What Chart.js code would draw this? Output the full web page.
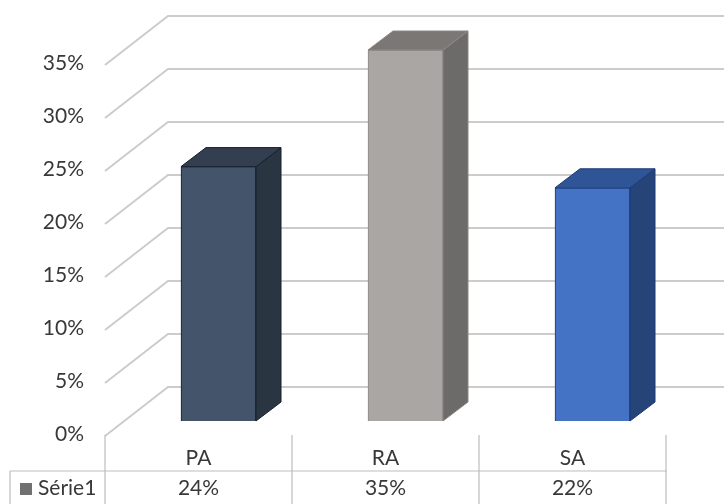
<!DOCTYPE html>
<html>
<head>
<meta charset="utf-8">
<style>
  html, body { margin: 0; padding: 0; background: #fff; }
  canvas { display: block; }
</style>
<script src="https://cdn.jsdelivr.net/npm/chart.js@4"></script>
</head>
<body>
<canvas id="grafico" width="724" height="504"></canvas>
<script>
const categories = ['PA', 'RA', 'SA'];
const serie1 = [24, 35, 22];
const serieName = 'Série1';
const yTicks = [0, 5, 10, 15, 20, 25, 30, 35];

// colores de cada barra: frente, lado, tapa, borde
const front = ['#44546a', '#aaa6a3', '#4472c4'];
const side = ['#2a3542', '#6c6b6a', '#264478'];
const top3d = ['#333f50', '#7b7774', '#2f5597'];
const edge = ['#161f2c', '#8a8886', '#1b3a78'];

const FONT = '"Lato", sans-serif';
const TEXT = '#383838';
const GRID = '#cccccc';
const DX = 25, DY = 19;          // profundidad de la barra
const WALL_X = 168, WALL_DY = 34, FLOOR_DY = 15, FLOOR_X = 105;

// Pared de fondo y lineas diagonales de la izquierda
const wallPlugin = {
  id: 'wall',
  beforeDatasetsDraw(chart) {
    const { ctx, scales: { y } } = chart;
    ctx.save();
    ctx.strokeStyle = GRID;
    ctx.lineWidth = 2;
    yTicks.forEach(v => {
      const py = y.getPixelForValue(v);
      ctx.beginPath();
      ctx.moveTo(FLOOR_X, py + FLOOR_DY);
      ctx.lineTo(WALL_X, py - WALL_DY);
      ctx.lineTo(724, py - WALL_DY);
      ctx.stroke();
    });
    ctx.restore();
  }
};

// Caras laterales y superior de las barras
const cubePlugin = {
  id: 'cube',
  afterDatasetsDraw(chart) {
    const { ctx } = chart;
    chart.getDatasetMeta(0).data.forEach((bar, i) => {
      const r = bar.x + bar.width / 2, l = bar.x - bar.width / 2;
      const t = bar.y, b = bar.base;
      ctx.save();
      ctx.lineWidth = 1;
      ctx.strokeStyle = edge[i];
      ctx.fillStyle = side[i];
      ctx.beginPath();
      ctx.moveTo(r, t);
      ctx.lineTo(r + DX, t - DY);
      ctx.lineTo(r + DX, b - DY);
      ctx.lineTo(r, b);
      ctx.closePath();
      ctx.fill();
      ctx.stroke();
      ctx.fillStyle = top3d[i];
      ctx.beginPath();
      ctx.moveTo(l, t);
      ctx.lineTo(l + DX, t - DY);
      ctx.lineTo(r + DX, t - DY);
      ctx.lineTo(r, t);
      ctx.closePath();
      ctx.fill();
      ctx.stroke();
      ctx.restore();
    });
  }
};

// Tabla de datos debajo del grafico
const tablePlugin = {
  id: 'dataTable',
  afterDraw(chart) {
    const { ctx } = chart;
    const cols = [105, 292, 479, 666];
    ctx.save();
    ctx.strokeStyle = '#bdbdbd';
    ctx.lineWidth = 1.2;
    ctx.beginPath();
    ctx.moveTo(10, 471); ctx.lineTo(667, 471);
    ctx.moveTo(10, 471); ctx.lineTo(10, 504);
    cols.forEach(x => { ctx.moveTo(x, 435); ctx.lineTo(x, 504); });
    ctx.stroke();

    ctx.font = '21px ' + FONT;
    ctx.fillStyle = TEXT;
    ctx.textBaseline = 'middle';
    ctx.textAlign = 'center';
    serie1.forEach((v, i) => {
      ctx.fillText(v + '%', (cols[i] + cols[i + 1]) / 2, 488);
    });
    ctx.textAlign = 'left';
    ctx.fillText(serieName, 38, 488);
    ctx.fillStyle = '#707070';
    ctx.fillRect(20, 483, 12, 12);
    ctx.restore();
  }
};

new Chart(document.getElementById('grafico').getContext('2d'), {
  type: 'bar',
  data: {
    labels: categories,
    datasets: [{
      label: serieName,
      data: serie1,
      backgroundColor: front,
      borderColor: edge,
      borderWidth: 1,
      barThickness: 75
    }]
  },
  plugins: [wallPlugin, cubePlugin, tablePlugin],
  options: {
    responsive: false,
    animation: false,
    layout: { padding: { top: 50, right: 38, left: 0, bottom: 0 } },
    plugins: { legend: { display: false }, tooltip: { enabled: false } },
    scales: {
      y: {
        min: 0,
        max: 35,
        afterFit(scale) { scale.width = 125; },
        border: { display: false },
        grid: { display: false },
        ticks: {
          stepSize: 5,
          padding: 33,
          labelOffset: 13,
          color: TEXT,
          font: { family: 'Lato', size: 21 },
          callback: v => v + '%'
        }
      },
      x: {
        afterFit(scale) { scale.height = 83; },
        border: { display: false },
        grid: { display: false },
        ticks: {
          padding: 17,
          labelOffset: -20,
          maxRotation: 0,
          color: TEXT,
          font: { family: 'Lato', size: 21 }
        }
      }
    }
  }
});
</script>
</body>
</html>
